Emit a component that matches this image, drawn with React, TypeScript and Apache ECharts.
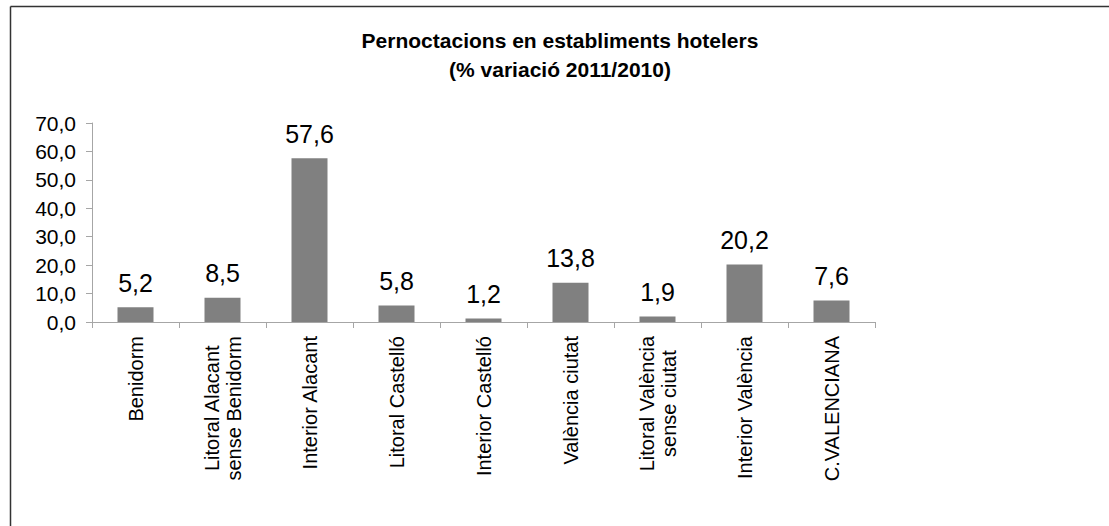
import React, { useEffect, useRef } from "react";
import * as echarts from "echarts";

const titleLines = ["Pernoctacions en establiments hotelers", "(% variació 2011/2010)"];
const categories = [
  "Benidorm",
  "Litoral Alacant\nsense Benidorm",
  "Interior Alacant",
  "Litoral Castelló",
  "Interior Castelló",
  "València ciutat",
  "Litoral València\nsense ciutat",
  "Interior València",
  "C.VALENCIANA",
];
const values = [5.2, 8.5, 57.6, 5.8, 1.2, 13.8, 1.9, 20.2, 7.6];
const yMin = 0;
const yMax = 70;
const yStep = 10;

const FONT = "Arial, 'Liberation Sans', sans-serif";
const fmt = (v: number) => v.toFixed(1).replace(".", ",");

export default function App() {
  const ref = useRef<HTMLDivElement>(null);
  useEffect(() => {
    if (!ref.current) return;
    const chart = echarts.init(ref.current, undefined, { renderer: "svg" });
    chart.setOption({
      animation: false,
      backgroundColor: "#ffffff",
      title: {
        text: titleLines.join("\n"),
        left: 555,
        textAlign: "center",
        top: 21,
        textStyle: {
          fontFamily: FONT,
          fontSize: 21,
          fontWeight: "bold",
          color: "#000",
          lineHeight: 29,
        },
      },
      grid: { left: 92, right: 234, top: 123, bottom: 204, containLabel: false },
      xAxis: {
        type: "category",
        data: categories,
        axisLine: { lineStyle: { color: "#a6a6a6", width: 1 } },
        axisTick: { show: true, length: 6, lineStyle: { color: "#a6a6a6" }, alignWithLabel: false },
        axisLabel: {
          rotate: 90,
          interval: 0,
          margin: 14,
          fontFamily: FONT,
          fontSize: 20,
          color: "#000",
          lineHeight: 22,
          formatter: (v: string) => {
            const parts = v.split("\n");
            if (parts.length === 1) return v;
            return parts.map((p) => `{c|${p}}`).join("\n");
          },
          rich: {
            c: { fontFamily: FONT, fontSize: 20, color: "#000", align: "center", lineHeight: 22 },
          },
        },
      },
      yAxis: {
        type: "value",
        min: yMin,
        max: yMax,
        interval: yStep,
        axisLine: { show: true, lineStyle: { color: "#a6a6a6", width: 1 } },
        axisTick: { show: true, length: 6, lineStyle: { color: "#a6a6a6" } },
        splitLine: { show: false },
        axisLabel: {
          margin: 16,
          fontFamily: FONT,
          fontSize: 21,
          color: "#000",
          formatter: (v: number) => fmt(v),
        },
      },
      series: [
        {
          type: "bar",
          data: values,
          barWidth: 36,
          itemStyle: { color: "#808080" },
          label: {
            show: true,
            position: "top",
            distance: 12,
            fontFamily: FONT,
            fontSize: 25,
            color: "#000",
            formatter: (p: any) => fmt(p.value),
          },
        },
      ],
      graphic: [
        { type: "line", shape: { x1: 10.5, y1: 6.5, x2: 1109, y2: 6.5 }, style: { stroke: "#333", lineWidth: 1.5 } },
        { type: "line", shape: { x1: 10.5, y1: 6.5, x2: 10.5, y2: 526 }, style: { stroke: "#333", lineWidth: 1.5 } },
      ],
    });
    return () => chart.dispose();
  }, []);
  return (
    <div
      ref={ref}
      style={{ position: "fixed", left: 0, top: 0, width: 1109, height: 526 }}
    />
  );
}
